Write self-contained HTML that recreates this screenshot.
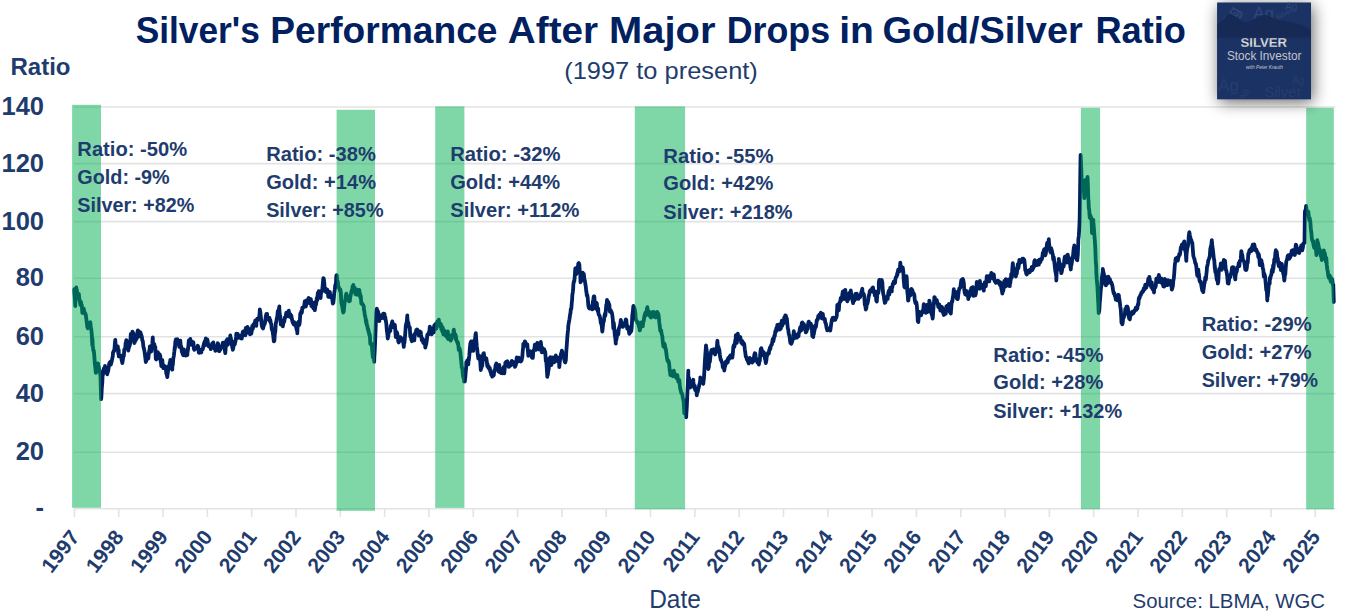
<!DOCTYPE html>
<html><head><meta charset="utf-8"><style>
html,body{margin:0;padding:0;background:#fff;width:1349px;height:613px;overflow:hidden}
svg{display:block;font-family:"Liberation Sans",sans-serif}
</style></head><body>
<svg width="1349" height="613" viewBox="0 0 1349 613">
<defs><filter id="sh" x="-50%" y="-50%" width="200%" height="200%"><feGaussianBlur in="SourceAlpha" stdDeviation="8"/><feOffset dx="2" dy="3"/><feComponentTransfer><feFuncA type="linear" slope="0.6"/></feComponentTransfer><feMerge><feMergeNode/><feMergeNode in="SourceGraphic"/></feMerge></filter></defs>
<rect width="1349" height="613" fill="#fff"/>
<line x1="74" y1="508.7" x2="1335.5" y2="508.7" stroke="#e3e3e3" stroke-width="1.6"/><line x1="74" y1="452.2" x2="1335.5" y2="452.2" stroke="#e3e3e3" stroke-width="1.6"/><line x1="74" y1="393.6" x2="1335.5" y2="393.6" stroke="#e3e3e3" stroke-width="1.6"/><line x1="74" y1="336.7" x2="1335.5" y2="336.7" stroke="#e3e3e3" stroke-width="1.6"/><line x1="74" y1="278.3" x2="1335.5" y2="278.3" stroke="#e3e3e3" stroke-width="1.6"/><line x1="74" y1="221.6" x2="1335.5" y2="221.6" stroke="#e3e3e3" stroke-width="1.6"/><line x1="74" y1="163.6" x2="1335.5" y2="163.6" stroke="#e3e3e3" stroke-width="1.6"/><line x1="74" y1="107.0" x2="1335.5" y2="107.0" stroke="#e3e3e3" stroke-width="1.6"/><line x1="74.4" y1="508.6" x2="74.4" y2="517" stroke="#e3e3e3" stroke-width="1.6"/><line x1="118.7" y1="508.6" x2="118.7" y2="517" stroke="#e3e3e3" stroke-width="1.6"/><line x1="163.0" y1="508.6" x2="163.0" y2="517" stroke="#e3e3e3" stroke-width="1.6"/><line x1="207.4" y1="508.6" x2="207.4" y2="517" stroke="#e3e3e3" stroke-width="1.6"/><line x1="251.7" y1="508.6" x2="251.7" y2="517" stroke="#e3e3e3" stroke-width="1.6"/><line x1="296.0" y1="508.6" x2="296.0" y2="517" stroke="#e3e3e3" stroke-width="1.6"/><line x1="340.3" y1="508.6" x2="340.3" y2="517" stroke="#e3e3e3" stroke-width="1.6"/><line x1="384.6" y1="508.6" x2="384.6" y2="517" stroke="#e3e3e3" stroke-width="1.6"/><line x1="428.9" y1="508.6" x2="428.9" y2="517" stroke="#e3e3e3" stroke-width="1.6"/><line x1="473.3" y1="508.6" x2="473.3" y2="517" stroke="#e3e3e3" stroke-width="1.6"/><line x1="517.6" y1="508.6" x2="517.6" y2="517" stroke="#e3e3e3" stroke-width="1.6"/><line x1="561.9" y1="508.6" x2="561.9" y2="517" stroke="#e3e3e3" stroke-width="1.6"/><line x1="606.2" y1="508.6" x2="606.2" y2="517" stroke="#e3e3e3" stroke-width="1.6"/><line x1="650.5" y1="508.6" x2="650.5" y2="517" stroke="#e3e3e3" stroke-width="1.6"/><line x1="694.8" y1="508.6" x2="694.8" y2="517" stroke="#e3e3e3" stroke-width="1.6"/><line x1="739.2" y1="508.6" x2="739.2" y2="517" stroke="#e3e3e3" stroke-width="1.6"/><line x1="783.5" y1="508.6" x2="783.5" y2="517" stroke="#e3e3e3" stroke-width="1.6"/><line x1="827.8" y1="508.6" x2="827.8" y2="517" stroke="#e3e3e3" stroke-width="1.6"/><line x1="872.1" y1="508.6" x2="872.1" y2="517" stroke="#e3e3e3" stroke-width="1.6"/><line x1="916.4" y1="508.6" x2="916.4" y2="517" stroke="#e3e3e3" stroke-width="1.6"/><line x1="960.8" y1="508.6" x2="960.8" y2="517" stroke="#e3e3e3" stroke-width="1.6"/><line x1="1005.1" y1="508.6" x2="1005.1" y2="517" stroke="#e3e3e3" stroke-width="1.6"/><line x1="1049.4" y1="508.6" x2="1049.4" y2="517" stroke="#e3e3e3" stroke-width="1.6"/><line x1="1093.7" y1="508.6" x2="1093.7" y2="517" stroke="#e3e3e3" stroke-width="1.6"/><line x1="1138.0" y1="508.6" x2="1138.0" y2="517" stroke="#e3e3e3" stroke-width="1.6"/><line x1="1182.3" y1="508.6" x2="1182.3" y2="517" stroke="#e3e3e3" stroke-width="1.6"/><line x1="1226.7" y1="508.6" x2="1226.7" y2="517" stroke="#e3e3e3" stroke-width="1.6"/><line x1="1271.0" y1="508.6" x2="1271.0" y2="517" stroke="#e3e3e3" stroke-width="1.6"/><line x1="1315.3" y1="508.6" x2="1315.3" y2="517" stroke="#e3e3e3" stroke-width="1.6"/>
<path d="M74.3,289.2 L74.3,292.0 L74.8,297.7 L75.3,306.2 L75.3,304.0 L75.8,297.1 L76.3,287.5 L76.4,289.4 L76.8,289.8 L77.3,294.1 L77.6,295.0 L77.8,298.1 L78.3,294.7 L78.8,293.8 L79.3,298.7 L79.8,300.7 L80.3,304.5 L80.8,305.4 L81.0,302.0 L81.3,304.5 L81.8,305.0 L82.3,313.0 L82.8,310.7 L83.3,309.9 L83.3,311.0 L83.8,308.7 L84.3,311.6 L84.8,313.3 L85.3,313.3 L85.6,314.6 L85.8,315.2 L86.3,318.8 L86.8,322.8 L87.3,327.0 L87.8,328.2 L87.9,327.0 L88.3,323.2 L88.8,326.4 L89.3,322.6 L89.8,323.6 L90.1,325.0 L90.3,322.1 L90.8,327.5 L91.3,329.7 L91.8,334.6 L92.3,345.4 L92.4,338.6 L92.8,345.4 L93.3,350.6 L93.8,350.7 L94.3,356.0 L94.7,361.4 L94.8,363.3 L95.3,367.3 L95.8,372.9 L95.9,372.9 L96.3,371.8 L96.8,367.1 L97.3,367.5 L97.8,363.3 L98.1,363.7 L98.3,368.1 L98.8,366.8 L99.3,370.2 L99.8,371.2 L100.3,375.0 L100.4,372.9 L100.8,387.5 L101.1,399.1 L101.3,398.0 L101.8,388.2 L102.3,382.6 L102.7,372.9 L102.8,375.3 L103.3,372.5 L103.8,368.4 L104.3,369.4 L104.8,368.2 L105.0,366.0 L105.3,371.3 L105.8,369.3 L106.3,371.5 L106.8,373.2 L107.3,374.3 L107.3,372.9 L107.8,372.2 L108.3,370.3 L108.8,366.8 L109.3,363.4 L109.8,362.4 L110.3,363.3 L110.7,361.4 L110.8,364.7 L111.3,362.8 L111.8,361.0 L112.3,358.4 L112.8,356.0 L113.0,352.3 L113.3,352.4 L113.8,350.7 L114.3,350.9 L114.8,344.6 L115.3,339.8 L115.3,340.9 L115.8,346.3 L116.3,345.8 L116.8,348.0 L117.3,349.5 L117.8,346.3 L118.3,354.0 L118.7,350.0 L118.8,356.4 L119.3,354.9 L119.8,356.6 L120.3,356.8 L120.8,355.6 L121.3,357.9 L121.8,360.9 L122.1,361.4 L122.3,363.1 L122.8,360.5 L123.3,356.3 L123.8,356.1 L124.3,349.5 L124.8,348.9 L125.3,347.8 L125.6,343.0 L125.8,343.9 L126.3,340.1 L126.8,341.0 L127.3,344.4 L127.8,346.9 L128.3,350.6 L128.8,346.7 L129.0,347.7 L129.3,346.0 L129.8,345.3 L130.3,341.8 L130.8,333.9 L131.3,336.6 L131.8,339.7 L132.3,336.6 L132.4,331.7 L132.8,332.5 L133.3,333.3 L133.8,336.0 L134.3,343.2 L134.7,338.6 L134.8,342.1 L135.3,338.9 L135.8,340.3 L136.3,336.4 L136.8,338.5 L137.3,332.9 L137.8,330.4 L138.1,330.6 L138.3,332.3 L138.8,336.0 L139.3,336.3 L139.8,336.3 L140.3,332.1 L140.8,333.6 L141.3,335.2 L141.8,336.6 L142.3,340.4 L142.7,340.9 L142.8,340.9 L143.3,346.1 L143.8,348.4 L144.3,350.1 L144.8,353.7 L145.3,357.6 L145.8,362.0 L146.1,361.4 L146.3,360.6 L146.8,358.5 L147.3,354.1 L147.8,358.2 L148.3,358.5 L148.8,353.9 L149.3,350.4 L149.6,350.0 L149.8,346.5 L150.3,347.7 L150.8,347.7 L151.3,351.6 L151.8,348.1 L152.3,343.7 L152.8,337.5 L153.0,343.0 L153.3,344.9 L153.8,346.5 L154.3,344.0 L154.8,348.2 L155.3,346.8 L155.8,358.9 L156.3,359.4 L156.4,354.6 L156.8,358.6 L157.3,356.9 L157.8,352.1 L158.3,355.3 L158.8,353.7 L159.3,358.5 L159.8,354.5 L160.3,356.2 L160.8,362.3 L161.0,361.4 L161.3,366.2 L161.8,362.0 L162.3,360.1 L162.8,365.5 L163.3,368.2 L163.8,365.6 L164.3,365.9 L164.8,366.6 L165.3,366.4 L165.8,368.0 L166.3,373.7 L166.7,372.9 L166.8,374.9 L167.3,377.1 L167.8,372.4 L168.3,369.7 L168.8,366.0 L169.3,365.8 L169.8,362.3 L170.0,365.3 L170.3,359.8 L170.8,364.7 L171.3,368.4 L171.8,368.5 L172.3,369.6 L172.4,365.3 L172.8,365.0 L173.3,358.7 L173.8,356.0 L174.3,351.9 L174.8,346.6 L174.9,348.9 L175.3,342.1 L175.8,339.5 L176.3,340.5 L176.8,339.9 L176.9,340.0 L177.3,339.2 L177.8,344.0 L178.3,343.4 L178.8,344.6 L179.3,346.9 L179.8,343.5 L179.8,344.0 L180.3,340.7 L180.8,346.6 L181.3,346.5 L181.8,351.9 L182.2,350.6 L182.3,352.5 L182.8,354.5 L183.3,355.2 L183.8,349.4 L184.3,353.9 L184.8,353.0 L185.3,352.9 L185.5,355.5 L185.8,353.0 L186.3,354.9 L186.8,355.3 L187.3,355.1 L187.8,348.3 L187.9,350.6 L188.3,346.5 L188.8,340.4 L189.3,341.9 L189.8,342.8 L190.3,338.8 L190.4,340.0 L190.8,340.6 L191.3,342.0 L191.8,344.9 L192.3,342.4 L192.8,341.9 L193.3,342.3 L193.7,345.7 L193.8,348.7 L194.3,349.8 L194.8,347.7 L195.3,347.9 L195.8,347.9 L196.3,348.4 L196.8,347.8 L196.9,348.1 L197.3,347.7 L197.8,345.8 L198.3,346.7 L198.8,352.7 L199.3,352.8 L199.8,352.1 L200.3,351.4 L200.8,352.1 L201.0,352.2 L201.3,352.5 L201.8,349.5 L202.3,349.6 L202.8,349.2 L203.3,346.2 L203.8,344.3 L204.3,342.4 L204.3,345.7 L204.8,341.2 L205.3,344.8 L205.8,338.4 L206.3,340.2 L206.8,339.7 L207.2,341.6 L207.3,339.4 L207.8,342.1 L208.3,346.1 L208.8,346.0 L209.3,346.0 L209.8,345.5 L210.0,347.3 L210.3,346.5 L210.8,349.1 L211.3,347.1 L211.8,344.6 L212.3,343.3 L212.8,343.2 L213.3,342.4 L213.8,347.9 L214.0,347.3 L214.3,348.4 L214.8,347.3 L215.3,350.8 L215.8,347.4 L216.3,349.3 L216.8,350.3 L217.3,345.3 L217.8,343.3 L218.3,344.0 L218.8,348.6 L218.9,348.1 L219.3,351.2 L219.8,346.4 L220.3,349.7 L220.8,347.6 L221.3,346.7 L221.8,346.0 L222.3,346.1 L222.8,342.7 L223.3,343.2 L223.8,342.8 L223.8,347.3 L224.3,345.9 L224.8,350.3 L225.3,353.2 L225.8,346.8 L226.3,340.6 L226.8,340.7 L227.1,342.4 L227.3,339.1 L227.8,344.9 L228.3,343.6 L228.8,339.7 L229.3,341.6 L229.8,341.0 L230.3,335.5 L230.4,338.3 L230.8,337.8 L231.3,341.1 L231.8,344.4 L232.3,347.5 L232.8,349.1 L232.8,349.8 L233.3,348.0 L233.8,344.5 L234.3,341.3 L234.8,344.3 L235.3,341.7 L235.8,339.6 L236.1,336.7 L236.3,333.7 L236.8,335.0 L237.3,337.7 L237.8,333.9 L238.3,337.8 L238.8,335.9 L239.3,336.9 L239.8,336.0 L240.1,335.9 L240.3,336.3 L240.8,338.4 L241.3,335.4 L241.8,338.5 L242.3,334.1 L242.8,331.8 L243.3,334.5 L243.8,331.2 L244.3,331.4 L244.8,334.1 L245.0,332.6 L245.3,335.3 L245.8,328.0 L246.3,329.7 L246.8,332.9 L247.3,331.8 L247.5,326.9 L247.8,329.0 L248.3,328.4 L248.8,329.7 L249.3,329.2 L249.8,331.9 L250.0,334.3 L250.3,332.4 L250.8,331.6 L251.3,333.7 L251.8,330.6 L252.3,325.8 L252.8,329.0 L253.2,326.9 L253.3,324.7 L253.8,324.0 L254.3,324.0 L254.8,322.9 L255.3,320.5 L255.8,320.7 L256.3,325.9 L256.5,321.2 L256.8,320.7 L257.3,318.8 L257.8,320.1 L258.3,318.9 L258.8,317.6 L259.3,316.4 L259.7,312.2 L259.8,309.4 L260.3,311.9 L260.8,316.6 L261.3,320.8 L261.8,325.8 L262.3,327.4 L262.8,327.9 L263.0,328.5 L263.3,327.7 L263.8,325.3 L264.3,324.3 L264.8,323.8 L265.3,320.2 L265.8,316.6 L266.3,314.0 L266.8,316.4 L267.1,313.9 L267.3,317.8 L267.8,318.8 L268.3,319.3 L268.8,320.0 L269.3,318.9 L269.5,317.9 L269.8,321.4 L270.3,320.0 L270.8,322.9 L271.3,324.2 L271.8,329.5 L272.3,330.0 L272.8,332.7 L273.3,336.3 L273.8,341.4 L274.3,339.9 L274.4,340.8 L274.8,334.0 L275.3,331.6 L275.8,322.9 L276.0,322.8 L276.3,321.7 L276.8,318.2 L277.3,316.6 L277.8,310.8 L278.3,313.0 L278.8,309.9 L279.3,306.4 L279.3,309.0 L279.8,314.8 L280.3,316.3 L280.8,324.6 L281.3,322.0 L281.8,320.5 L282.3,322.2 L282.6,322.8 L282.8,326.4 L283.3,323.1 L283.8,322.3 L284.3,321.6 L284.8,317.4 L285.3,317.7 L285.8,315.7 L286.3,312.7 L286.8,315.8 L287.3,316.1 L287.5,313.9 L287.8,315.2 L288.3,313.4 L288.8,310.6 L289.3,315.6 L289.8,316.8 L290.3,314.0 L290.8,317.1 L291.3,315.5 L291.8,318.7 L292.3,320.8 L292.3,321.2 L292.8,322.7 L293.3,323.6 L293.8,324.4 L294.3,322.2 L294.8,323.6 L295.3,324.3 L295.8,325.8 L296.3,328.0 L296.8,330.2 L297.2,329.4 L297.3,333.3 L297.8,322.6 L298.3,323.8 L298.8,321.5 L299.3,325.0 L299.8,321.9 L300.3,313.4 L300.5,314.7 L300.8,313.9 L301.3,311.2 L301.8,312.7 L302.3,307.7 L302.3,309.4 L302.8,307.8 L303.3,307.4 L303.8,306.9 L304.3,305.2 L304.8,301.2 L305.3,304.5 L305.7,304.8 L305.8,306.5 L306.3,304.1 L306.8,300.2 L307.3,300.8 L307.8,301.2 L308.3,299.0 L308.7,298.0 L308.8,298.3 L309.3,303.0 L309.8,300.0 L310.3,300.9 L310.8,299.1 L311.3,302.1 L311.4,306.0 L311.8,302.7 L312.3,302.3 L312.8,302.6 L313.3,308.4 L313.8,306.1 L314.3,305.3 L314.8,310.2 L315.3,306.9 L315.8,301.6 L316.0,304.8 L316.3,302.7 L316.8,297.9 L317.3,300.2 L317.8,292.8 L317.8,294.5 L318.3,293.1 L318.8,291.2 L319.3,294.8 L319.8,294.0 L320.3,296.3 L320.6,298.0 L320.8,295.2 L321.3,291.3 L321.8,291.2 L322.3,289.2 L322.8,284.3 L323.3,278.1 L323.3,279.7 L323.8,278.7 L324.3,283.2 L324.8,291.2 L325.3,289.1 L325.8,288.7 L326.3,290.0 L326.3,292.2 L326.8,289.3 L327.3,289.6 L327.8,291.8 L328.3,296.8 L328.8,295.8 L329.3,294.5 L329.7,295.7 L329.8,291.9 L330.3,295.8 L330.8,297.4 L331.3,295.9 L331.8,296.2 L332.3,299.3 L332.8,303.6 L333.1,302.5 L333.3,303.0 L333.8,298.2 L334.3,292.6 L334.8,289.5 L335.3,285.0 L335.8,285.8 L336.3,276.1 L336.5,275.1 L336.8,275.4 L337.3,281.2 L337.8,281.4 L338.3,286.8 L338.8,286.9 L339.3,288.7 L339.8,289.7 L340.0,291.1 L340.3,289.4 L340.8,292.1 L341.3,302.2 L341.8,304.3 L342.3,306.8 L342.8,310.3 L343.3,312.5 L343.4,310.5 L343.8,311.3 L344.3,305.5 L344.8,301.3 L345.3,300.5 L345.7,295.7 L345.8,295.9 L346.3,293.7 L346.8,295.8 L347.3,296.4 L347.8,299.9 L348.3,298.7 L348.8,297.9 L349.1,301.4 L349.3,298.6 L349.8,301.1 L350.3,297.1 L350.8,294.7 L351.3,292.1 L351.8,290.4 L352.3,289.8 L352.5,286.5 L352.8,290.9 L353.3,285.0 L353.8,289.8 L354.3,288.8 L354.8,287.9 L355.3,294.0 L355.8,290.8 L356.3,294.6 L356.8,294.1 L357.1,290.0 L357.3,289.8 L357.8,292.5 L358.3,294.9 L358.8,294.5 L359.3,290.0 L359.8,293.5 L360.3,295.9 L360.5,298.0 L360.8,295.8 L361.3,303.6 L361.8,303.0 L362.3,303.4 L362.8,304.8 L363.3,305.2 L363.8,306.4 L363.9,309.4 L364.3,310.9 L364.8,315.1 L365.3,316.7 L365.8,320.1 L366.2,323.1 L366.3,320.1 L366.8,325.3 L367.3,325.7 L367.8,329.2 L368.3,329.2 L368.5,332.2 L368.8,331.4 L369.3,335.1 L369.8,334.5 L370.3,344.0 L370.8,343.2 L371.3,344.0 L371.8,344.0 L371.9,345.9 L372.3,351.8 L372.8,356.6 L373.3,358.1 L373.8,357.0 L374.2,361.9 L374.3,357.7 L374.8,349.4 L375.3,337.0 L375.8,323.9 L376.3,312.1 L376.5,311.7 L376.8,308.6 L377.3,311.2 L377.8,311.0 L378.3,312.7 L378.8,320.1 L379.3,321.0 L379.8,315.2 L380.3,316.3 L380.8,316.5 L381.1,316.2 L381.3,316.0 L381.8,318.1 L382.3,315.6 L382.8,314.4 L383.3,313.6 L383.8,313.7 L384.3,316.7 L384.5,313.9 L384.8,318.8 L385.3,317.3 L385.8,320.9 L386.3,323.5 L386.8,330.2 L387.3,333.6 L387.8,338.5 L387.9,336.8 L388.3,336.4 L388.8,330.1 L389.3,332.0 L389.8,331.4 L390.3,330.9 L390.8,325.7 L391.3,325.9 L391.8,323.3 L392.3,321.4 L392.5,323.1 L392.8,324.2 L393.3,327.1 L393.8,326.6 L394.3,325.7 L394.8,324.8 L395.3,330.0 L395.8,337.2 L395.9,336.8 L396.3,337.2 L396.8,332.2 L397.3,333.5 L397.8,337.1 L398.3,341.6 L398.8,342.4 L399.3,341.0 L399.8,340.2 L400.3,337.1 L400.5,339.1 L400.8,337.7 L401.3,338.7 L401.8,338.4 L402.3,340.7 L402.8,340.9 L403.3,343.1 L403.8,346.9 L403.9,343.6 L404.3,343.6 L404.8,338.9 L405.3,333.1 L405.8,325.6 L406.3,323.5 L406.8,321.9 L407.3,315.3 L407.3,317.4 L407.8,322.1 L408.3,322.6 L408.8,326.1 L409.3,327.4 L409.8,327.3 L410.3,336.5 L410.8,334.3 L411.3,339.8 L411.8,340.1 L411.9,341.3 L412.3,340.7 L412.8,337.4 L413.3,336.2 L413.8,338.1 L414.3,340.4 L414.8,334.2 L415.3,332.9 L415.8,333.8 L416.3,329.8 L416.5,329.9 L416.8,331.6 L417.3,329.5 L417.8,332.1 L418.3,333.1 L418.8,335.6 L419.3,334.9 L419.8,331.4 L420.3,334.6 L420.8,332.1 L421.0,334.5 L421.3,336.1 L421.8,340.3 L422.3,340.6 L422.8,338.8 L423.3,342.9 L423.8,342.9 L424.3,340.4 L424.8,342.2 L425.3,347.7 L425.6,345.9 L425.8,345.4 L426.3,343.5 L426.8,340.4 L427.3,334.9 L427.8,334.2 L428.3,334.7 L428.8,333.4 L429.0,332.2 L429.3,331.7 L429.8,326.6 L430.3,332.0 L430.8,332.8 L431.3,333.6 L431.8,334.3 L432.3,330.3 L432.8,328.1 L433.3,329.2 L433.4,328.8 L433.8,332.3 L434.3,325.4 L434.8,325.6 L435.3,324.2 L435.8,326.2 L436.3,328.7 L436.8,325.3 L437.3,321.4 L437.8,322.4 L438.0,323.1 L438.3,322.3 L438.8,319.7 L439.3,324.5 L439.8,323.3 L440.0,324.5 L440.3,326.4 L440.8,323.9 L441.3,329.2 L441.8,326.2 L442.3,331.5 L442.8,327.7 L443.3,334.3 L443.3,332.6 L443.8,333.1 L444.3,330.3 L444.8,332.6 L445.3,335.3 L445.8,333.7 L446.3,334.6 L446.8,337.1 L447.3,337.5 L447.8,331.4 L448.2,339.2 L448.3,335.2 L448.8,337.7 L449.3,337.9 L449.8,339.2 L450.3,335.3 L450.8,340.7 L451.3,338.4 L451.8,335.9 L452.3,336.2 L452.8,335.5 L453.3,332.8 L453.8,329.6 L453.9,330.2 L454.3,334.5 L454.8,337.1 L455.3,334.4 L455.5,339.2 L455.8,335.6 L456.3,339.7 L456.8,341.0 L457.3,342.3 L457.8,344.0 L457.9,342.4 L458.3,345.0 L458.8,350.0 L459.3,348.2 L459.8,349.0 L460.3,352.2 L460.4,352.2 L460.8,357.3 L461.3,361.9 L461.8,367.8 L462.3,368.0 L462.8,374.2 L463.3,377.5 L463.8,377.7 L464.1,381.6 L464.3,379.4 L464.8,381.4 L465.3,377.3 L465.8,370.8 L466.1,368.5 L466.3,362.3 L466.8,361.8 L467.3,360.4 L467.8,360.5 L468.3,364.4 L468.5,358.7 L468.8,360.4 L469.3,355.7 L469.8,348.9 L470.3,343.7 L470.8,341.9 L471.0,342.4 L471.3,341.4 L471.8,350.8 L472.3,347.5 L472.8,346.5 L473.3,350.9 L473.4,348.9 L473.8,347.3 L474.3,340.5 L474.8,341.6 L475.3,336.4 L475.6,334.3 L475.8,333.2 L476.3,340.4 L476.8,346.5 L477.3,349.9 L477.5,352.2 L477.8,355.1 L478.3,358.6 L478.8,357.6 L479.3,355.9 L479.8,356.0 L480.3,362.7 L480.8,370.0 L480.8,368.5 L481.3,368.3 L481.8,366.7 L482.3,365.3 L482.8,358.7 L483.2,353.8 L483.3,357.4 L483.8,353.1 L484.3,357.2 L484.8,358.8 L485.3,359.1 L485.8,359.1 L486.3,358.3 L486.8,361.6 L487.3,366.2 L487.3,363.6 L487.8,365.1 L488.3,367.6 L488.8,366.6 L489.3,369.1 L489.8,368.0 L490.3,371.6 L490.8,372.4 L491.3,374.8 L491.8,374.4 L492.2,376.7 L492.3,373.2 L492.8,372.6 L493.3,374.5 L493.8,375.4 L494.3,370.4 L494.8,369.9 L495.3,368.6 L495.5,365.3 L495.8,367.6 L496.3,363.5 L496.8,366.5 L497.3,365.1 L497.8,369.8 L498.3,371.2 L498.8,371.7 L499.3,365.0 L499.5,370.1 L499.8,369.9 L500.3,372.3 L500.8,369.0 L501.3,373.2 L501.8,373.1 L502.3,372.8 L502.8,371.7 L502.8,373.4 L503.3,368.3 L503.8,367.0 L504.3,373.3 L504.8,367.9 L505.3,364.5 L505.3,362.8 L505.8,362.3 L506.3,361.7 L506.8,361.8 L507.3,361.2 L507.8,365.2 L508.3,364.4 L508.8,366.9 L509.3,363.4 L509.3,365.3 L509.8,366.2 L510.3,364.8 L510.8,365.5 L511.3,363.8 L511.8,360.9 L512.3,364.3 L512.6,362.0 L512.8,362.2 L513.3,363.0 L513.8,362.2 L514.3,365.1 L514.8,365.4 L515.0,366.9 L515.3,366.1 L515.8,365.2 L516.3,361.4 L516.8,357.3 L517.3,358.9 L517.5,358.7 L517.8,360.7 L518.3,361.4 L518.8,357.6 L519.3,360.2 L519.8,360.8 L520.3,361.0 L520.8,361.5 L521.3,360.1 L521.6,360.4 L521.8,359.2 L522.3,357.0 L522.8,350.3 L523.2,347.3 L523.3,343.8 L523.8,345.1 L524.3,346.0 L524.8,341.4 L525.3,341.9 L525.8,344.7 L526.3,343.9 L526.5,344.0 L526.8,345.3 L527.3,344.4 L527.8,350.2 L528.3,355.8 L528.8,354.7 L528.9,353.8 L529.3,352.8 L529.8,351.0 L530.3,355.2 L530.8,355.1 L531.3,353.2 L531.8,357.2 L532.3,357.8 L532.8,357.9 L533.0,355.5 L533.3,350.9 L533.8,349.9 L534.3,349.7 L534.6,347.3 L534.8,344.6 L535.3,347.7 L535.8,349.8 L536.3,349.5 L536.8,345.0 L537.3,342.9 L537.8,345.6 L537.9,344.0 L538.3,347.2 L538.8,348.7 L539.3,349.5 L539.8,347.0 L540.3,345.6 L540.8,341.9 L541.3,346.8 L541.8,352.4 L542.0,347.3 L542.3,348.9 L542.8,348.3 L543.3,351.2 L543.8,352.3 L544.3,349.4 L544.4,352.2 L544.8,351.1 L545.3,352.3 L545.8,361.1 L546.0,358.7 L546.3,361.4 L546.8,368.6 L547.3,376.9 L547.3,371.8 L547.8,374.9 L548.3,371.1 L548.8,368.1 L549.3,358.3 L549.3,358.7 L549.8,358.0 L550.3,357.2 L550.8,358.0 L551.3,365.2 L551.8,358.3 L552.3,360.9 L552.6,360.4 L552.8,357.5 L553.3,361.4 L553.8,362.4 L554.3,358.1 L554.8,361.9 L555.3,358.4 L555.8,359.4 L555.8,355.5 L556.3,358.7 L556.8,357.1 L557.3,357.4 L557.8,358.8 L558.3,361.6 L558.8,362.2 L559.1,362.0 L559.3,367.1 L559.8,361.7 L560.3,358.0 L560.8,355.0 L561.3,352.7 L561.5,354.6 L561.8,350.7 L562.3,351.7 L562.8,356.9 L563.3,357.5 L563.8,357.6 L564.3,359.3 L564.8,362.0 L565.3,362.5 L565.6,360.4 L565.8,360.7 L566.3,351.5 L566.8,344.8 L567.3,337.3 L567.8,332.1 L568.1,329.4 L568.3,325.7 L568.8,322.8 L569.3,320.1 L569.8,316.8 L570.3,313.4 L570.5,313.0 L570.8,309.0 L571.3,308.9 L571.8,302.6 L572.1,300.0 L572.3,295.6 L572.8,292.0 L573.2,288.2 L573.3,285.0 L573.8,281.6 L574.3,281.4 L574.8,275.8 L575.3,268.4 L575.8,272.0 L576.1,273.5 L576.3,274.2 L576.8,268.4 L577.3,267.1 L577.8,269.3 L578.3,263.5 L578.8,263.0 L579.1,266.1 L579.3,264.1 L579.8,272.0 L580.3,274.6 L580.5,282.3 L580.8,281.6 L581.3,280.4 L581.8,280.3 L582.3,278.2 L582.8,272.7 L583.3,274.4 L583.5,276.4 L583.8,273.9 L584.3,278.9 L584.8,280.4 L585.3,283.8 L585.8,286.9 L586.3,291.9 L586.4,291.1 L586.8,295.7 L587.3,295.0 L587.8,298.7 L588.3,305.4 L588.8,307.6 L589.3,307.4 L589.4,308.7 L589.8,307.5 L590.3,306.2 L590.8,308.1 L591.3,306.3 L591.8,305.9 L592.3,309.4 L592.8,302.1 L593.3,299.5 L593.8,296.3 L593.8,301.4 L594.3,296.5 L594.8,302.8 L595.3,304.4 L595.8,308.7 L596.3,302.6 L596.8,303.2 L597.3,309.2 L597.8,311.2 L598.2,308.7 L598.3,312.5 L598.8,314.8 L599.3,315.2 L599.8,316.7 L600.3,318.8 L600.8,322.9 L601.3,323.6 L601.8,326.4 L602.3,331.5 L602.6,329.2 L602.8,326.8 L603.3,322.4 L603.8,321.6 L604.3,317.4 L604.8,314.0 L605.3,315.8 L605.8,310.7 L606.3,304.7 L606.8,303.8 L607.0,299.9 L607.3,307.5 L607.8,302.2 L608.3,301.9 L608.8,304.4 L609.3,304.4 L609.8,311.7 L610.3,311.6 L610.8,310.3 L611.3,312.6 L611.4,311.6 L611.8,312.7 L612.3,315.1 L612.8,319.5 L613.3,328.3 L613.8,323.0 L614.3,328.8 L614.8,335.1 L615.3,338.0 L615.8,343.7 L615.8,338.1 L616.3,340.0 L616.8,337.1 L617.3,334.4 L617.8,330.9 L618.3,334.4 L618.8,328.5 L619.3,327.8 L619.8,325.8 L620.2,326.3 L620.3,323.8 L620.8,319.9 L621.3,322.4 L621.8,324.5 L622.3,325.2 L622.8,326.9 L623.3,325.1 L623.8,323.2 L624.3,324.4 L624.8,325.6 L625.3,322.3 L625.8,319.4 L626.0,323.4 L626.3,320.0 L626.8,325.8 L627.3,328.6 L627.8,326.0 L628.3,327.9 L628.8,330.9 L629.3,333.8 L629.8,331.0 L630.3,331.5 L630.4,332.2 L630.8,331.7 L631.3,331.0 L631.8,326.1 L632.3,315.3 L632.8,312.1 L633.3,306.4 L633.4,305.8 L633.8,307.1 L634.3,307.8 L634.8,309.6 L635.3,312.7 L635.8,319.3 L636.3,320.6 L636.8,321.6 L637.3,322.4 L637.8,322.1 L637.8,323.4 L638.3,322.7 L638.8,326.5 L639.3,327.3 L639.8,330.4 L640.3,327.9 L640.8,326.5 L641.3,322.4 L641.8,325.6 L642.2,326.3 L642.3,321.8 L642.8,326.2 L643.3,321.9 L643.8,320.7 L644.3,316.1 L644.8,315.2 L645.3,312.8 L645.8,315.6 L646.3,313.7 L646.6,311.6 L646.8,309.6 L647.3,307.2 L647.8,310.9 L648.3,311.8 L648.8,311.2 L649.3,315.2 L649.8,315.5 L650.3,316.6 L650.8,315.9 L651.0,317.5 L651.3,315.4 L651.8,315.1 L652.3,312.1 L652.8,315.8 L653.3,316.6 L653.8,311.8 L654.3,313.8 L654.8,316.8 L655.3,315.7 L655.8,317.5 L656.3,314.3 L656.8,313.5 L656.9,313.1 L657.3,312.0 L657.8,313.8 L658.3,313.7 L658.8,317.1 L659.3,322.4 L659.8,326.4 L660.3,330.8 L660.8,331.5 L661.3,330.5 L661.3,332.2 L661.8,334.5 L662.3,336.0 L662.8,342.2 L663.3,346.3 L663.8,346.9 L664.3,343.4 L664.8,344.7 L665.3,348.0 L665.7,349.8 L665.8,348.6 L666.3,353.1 L666.8,356.7 L667.3,359.9 L667.8,361.2 L668.3,360.5 L668.8,361.7 L669.3,365.3 L669.8,371.4 L670.1,370.3 L670.3,375.1 L670.8,374.9 L671.3,373.6 L671.8,374.0 L672.3,374.7 L672.8,376.3 L673.3,376.1 L673.8,370.7 L674.3,374.5 L674.5,373.3 L674.8,375.3 L675.3,374.4 L675.8,376.9 L676.3,378.0 L676.8,378.2 L677.3,375.1 L677.8,378.7 L678.3,381.7 L678.8,382.1 L678.9,382.1 L679.3,380.1 L679.8,385.3 L680.3,389.2 L680.8,390.7 L681.3,393.1 L681.8,393.4 L682.3,394.1 L682.8,398.3 L683.3,399.1 L683.3,399.7 L683.8,402.9 L684.3,413.3 L684.8,413.5 L685.3,414.0 L685.8,412.0 L686.2,417.3 L686.3,414.4 L686.8,406.9 L687.3,394.7 L687.8,385.0 L688.3,370.6 L688.3,376.2 L688.8,377.6 L689.3,379.2 L689.8,384.1 L690.0,384.2 L690.3,387.5 L690.8,384.7 L691.3,386.0 L691.8,384.6 L692.3,382.8 L692.8,381.7 L693.3,379.8 L693.4,381.9 L693.8,385.4 L694.3,388.0 L694.8,385.8 L695.3,390.2 L695.8,389.4 L696.3,388.4 L696.8,395.3 L696.9,394.5 L697.3,390.0 L697.8,391.7 L698.3,388.6 L698.8,387.4 L699.3,384.6 L699.8,383.4 L700.3,379.5 L700.3,377.3 L700.8,379.9 L701.3,379.4 L701.8,381.4 L702.3,379.0 L702.8,381.5 L703.3,383.8 L703.7,379.6 L703.8,379.7 L704.3,372.3 L704.8,362.7 L705.3,354.9 L705.8,348.6 L706.0,345.4 L706.3,347.7 L706.8,351.0 L707.3,357.3 L707.8,363.3 L708.3,369.0 L708.3,368.2 L708.8,367.4 L709.3,359.5 L709.8,362.1 L710.3,357.8 L710.8,353.1 L711.3,350.5 L711.7,349.9 L711.8,350.5 L712.3,352.9 L712.8,351.4 L713.3,352.4 L713.8,349.2 L714.3,352.4 L714.8,353.4 L715.1,354.5 L715.3,352.1 L715.8,351.9 L716.3,352.1 L716.8,348.6 L717.3,341.3 L717.4,340.8 L717.8,346.4 L718.3,346.3 L718.8,348.5 L719.3,349.8 L719.8,354.3 L720.3,357.9 L720.8,360.0 L720.8,359.1 L721.3,360.6 L721.8,362.0 L722.3,362.9 L722.8,367.4 L723.3,366.8 L723.8,368.3 L724.3,369.8 L724.3,370.5 L724.8,366.8 L725.3,365.8 L725.8,361.6 L726.3,363.2 L726.8,363.1 L727.3,360.2 L727.7,359.1 L727.8,362.4 L728.3,358.0 L728.8,359.0 L729.3,359.0 L729.8,356.3 L730.3,355.6 L730.8,357.7 L731.3,356.3 L731.8,355.9 L732.2,354.5 L732.3,357.7 L732.8,354.1 L733.3,347.1 L733.8,345.3 L734.3,347.0 L734.8,344.3 L735.3,339.9 L735.7,340.8 L735.8,335.2 L736.3,338.9 L736.8,342.9 L737.3,338.0 L737.8,333.7 L738.3,337.9 L738.8,337.0 L739.1,338.5 L739.3,337.4 L739.8,337.9 L740.3,337.1 L740.8,340.2 L741.3,342.8 L741.8,342.9 L742.3,341.1 L742.8,344.3 L743.3,343.3 L743.7,343.1 L743.8,345.1 L744.3,344.4 L744.8,349.2 L745.3,352.7 L745.8,356.8 L746.3,356.9 L746.8,359.3 L747.1,359.1 L747.3,358.5 L747.8,361.2 L748.3,362.2 L748.8,363.4 L749.3,360.7 L749.8,357.8 L750.3,359.4 L750.8,359.9 L751.3,359.0 L751.7,361.3 L751.8,361.6 L752.3,362.5 L752.8,361.0 L753.3,361.4 L753.8,359.3 L754.3,354.8 L754.8,353.2 L755.1,354.5 L755.3,353.4 L755.8,357.1 L756.3,359.8 L756.8,359.8 L757.3,362.5 L757.8,360.1 L758.3,361.5 L758.5,362.5 L758.8,364.6 L759.3,361.8 L759.8,361.0 L760.3,352.9 L760.8,349.0 L761.3,348.2 L761.8,351.0 L761.9,349.9 L762.3,355.1 L762.8,352.7 L763.3,351.9 L763.8,352.3 L764.3,353.7 L764.8,358.4 L765.3,359.2 L765.4,360.2 L765.8,363.1 L766.3,360.9 L766.8,356.0 L767.3,355.3 L767.8,353.3 L768.3,353.8 L768.8,353.4 L769.3,349.6 L769.8,350.0 L769.9,347.6 L770.3,348.8 L770.8,346.0 L771.3,345.0 L771.8,344.8 L772.3,341.7 L772.8,338.9 L773.3,341.5 L773.8,338.9 L774.3,335.7 L774.5,336.2 L774.8,336.1 L775.3,331.2 L775.8,331.9 L776.3,328.2 L776.8,328.1 L776.8,330.5 L777.3,324.9 L777.8,325.6 L778.3,329.2 L778.8,327.8 L779.3,324.5 L779.8,329.5 L780.3,325.8 L780.8,328.7 L781.3,324.9 L781.3,324.8 L781.8,320.6 L782.3,325.7 L782.8,322.0 L783.3,322.6 L783.8,323.3 L784.3,317.3 L784.8,317.4 L785.3,315.4 L785.8,316.7 L785.9,315.7 L786.3,318.4 L786.8,318.3 L787.3,323.1 L787.8,328.4 L788.3,329.9 L788.8,334.2 L789.3,335.3 L789.8,338.5 L790.3,342.6 L790.5,343.1 L790.8,342.8 L791.3,343.8 L791.8,342.6 L792.3,340.9 L792.8,339.1 L793.3,336.2 L793.8,331.1 L793.9,332.8 L794.3,334.7 L794.8,338.0 L795.3,336.2 L795.8,334.6 L796.3,334.7 L796.8,337.7 L797.3,337.1 L797.8,334.2 L798.3,335.1 L798.5,336.2 L798.8,333.1 L799.3,332.2 L799.8,329.3 L800.3,327.2 L800.8,330.7 L801.3,330.1 L801.8,322.8 L801.9,324.8 L802.3,322.3 L802.8,323.9 L803.3,325.1 L803.8,323.9 L804.3,328.9 L804.8,325.7 L805.3,330.1 L805.8,332.3 L806.3,331.3 L806.5,331.7 L806.8,329.5 L807.3,329.4 L807.8,328.8 L808.3,322.8 L808.8,321.6 L809.3,324.5 L809.8,323.4 L809.9,323.7 L810.3,323.8 L810.8,323.7 L811.3,325.3 L811.8,326.6 L812.3,336.1 L812.8,331.7 L813.3,337.1 L813.3,333.9 L813.8,334.3 L814.3,331.3 L814.8,328.9 L815.3,325.4 L815.8,327.3 L816.3,324.4 L816.7,320.2 L816.8,321.0 L817.3,319.6 L817.8,319.3 L818.3,315.8 L818.8,315.9 L819.3,314.8 L819.8,316.8 L820.2,315.7 L820.3,317.4 L820.8,312.6 L821.3,314.6 L821.8,318.3 L822.3,314.8 L822.8,313.9 L823.3,318.7 L823.4,317.9 L823.8,319.1 L824.3,319.6 L824.8,318.9 L825.3,322.7 L825.8,323.4 L826.3,326.3 L826.8,328.8 L826.9,328.2 L827.3,330.4 L827.8,328.9 L828.3,328.0 L828.8,329.1 L829.3,329.5 L829.8,330.4 L830.3,329.4 L830.3,330.5 L830.8,326.8 L831.3,323.3 L831.8,320.3 L832.3,319.1 L832.6,317.9 L832.8,320.3 L833.3,317.7 L833.8,319.1 L834.3,319.2 L834.8,318.7 L835.3,319.8 L835.8,317.4 L836.0,317.9 L836.3,317.7 L836.8,315.5 L837.3,304.9 L837.8,307.9 L838.3,308.4 L838.8,310.3 L839.3,303.0 L839.4,303.1 L839.8,302.1 L840.3,301.7 L840.8,297.8 L841.3,300.4 L841.8,299.0 L842.3,294.9 L842.8,291.6 L843.3,291.3 L843.8,296.7 L844.0,291.7 L844.3,299.2 L844.8,291.0 L845.3,289.9 L845.8,295.9 L846.3,297.4 L846.8,297.6 L847.3,301.3 L847.4,300.8 L847.8,300.1 L848.3,299.0 L848.8,297.5 L849.3,293.0 L849.8,295.7 L850.3,291.9 L850.8,293.0 L850.8,290.5 L851.3,295.8 L851.8,297.1 L852.3,299.5 L852.8,301.7 L853.1,303.1 L853.3,298.7 L853.8,299.3 L854.3,300.7 L854.8,296.1 L855.3,293.9 L855.8,298.2 L856.3,298.7 L856.5,296.2 L856.8,293.6 L857.3,296.4 L857.8,296.5 L858.3,298.9 L858.8,297.1 L859.3,296.7 L859.8,295.4 L860.0,297.3 L860.3,296.2 L860.8,294.7 L861.3,292.2 L861.8,291.0 L862.3,288.8 L862.4,290.8 L862.8,293.5 L863.3,293.6 L863.8,294.1 L864.3,297.2 L864.8,304.7 L865.3,305.8 L865.7,308.7 L865.8,309.5 L866.3,308.5 L866.8,304.1 L867.3,304.0 L867.8,302.2 L868.3,299.1 L868.8,295.2 L869.0,295.7 L869.3,294.4 L869.8,290.9 L870.3,291.2 L870.8,290.0 L871.3,291.2 L871.8,290.8 L872.3,287.8 L872.8,289.4 L873.0,287.5 L873.3,292.0 L873.8,292.2 L874.3,291.6 L874.8,295.4 L875.3,291.4 L875.8,295.2 L876.3,300.6 L876.3,300.6 L876.8,301.5 L877.3,293.6 L877.8,293.3 L878.3,292.9 L878.8,289.6 L878.8,282.6 L879.3,279.8 L879.8,283.6 L880.3,282.9 L880.8,284.3 L881.3,282.0 L881.8,280.0 L882.0,281.0 L882.3,282.4 L882.8,290.3 L883.3,294.3 L883.8,295.7 L884.3,300.2 L884.5,300.6 L884.8,302.9 L885.3,302.4 L885.8,300.7 L886.3,298.5 L886.8,297.2 L887.3,297.3 L887.7,298.9 L887.8,296.6 L888.3,292.9 L888.8,290.9 L889.3,294.5 L889.8,290.5 L890.3,287.7 L890.8,288.6 L891.3,291.5 L891.8,291.4 L891.8,287.5 L892.3,287.4 L892.8,283.9 L893.3,283.2 L893.8,281.6 L894.3,281.4 L894.8,283.2 L895.1,282.6 L895.3,279.6 L895.8,277.5 L896.3,276.9 L896.8,276.1 L897.3,273.1 L897.5,274.5 L897.8,271.4 L898.3,269.6 L898.8,269.2 L899.3,271.5 L899.8,270.2 L900.3,262.7 L900.8,267.7 L901.3,267.6 L901.6,267.9 L901.8,266.8 L902.3,270.7 L902.8,267.7 L903.3,271.5 L903.8,281.3 L904.0,282.6 L904.3,286.7 L904.8,287.5 L905.3,280.3 L905.8,278.5 L906.3,278.6 L906.5,276.1 L906.8,278.7 L907.3,291.5 L907.8,295.6 L908.1,300.6 L908.3,300.6 L908.8,295.8 L909.3,296.3 L909.8,294.7 L910.3,295.5 L910.8,289.6 L911.3,288.9 L911.4,289.2 L911.8,293.9 L912.3,289.8 L912.8,292.3 L913.3,294.1 L913.8,293.3 L913.8,294.0 L914.3,294.8 L914.8,300.2 L915.3,302.7 L915.8,303.4 L916.3,303.9 L916.3,302.2 L916.8,305.4 L917.3,311.8 L917.8,321.4 L917.9,318.5 L918.3,322.1 L918.8,316.1 L919.3,311.8 L919.8,313.0 L920.3,315.1 L920.8,314.0 L921.2,315.3 L921.3,313.5 L921.8,313.1 L922.3,313.0 L922.8,310.1 L923.3,310.1 L923.6,305.5 L923.8,304.1 L924.3,307.6 L924.8,309.7 L925.3,306.9 L925.8,312.9 L926.1,312.0 L926.3,308.3 L926.8,305.0 L927.3,312.1 L927.8,310.7 L928.3,306.9 L928.8,306.6 L929.3,304.9 L929.3,300.6 L929.8,302.5 L930.3,306.8 L930.8,312.3 L931.3,312.5 L931.8,314.8 L932.3,316.0 L932.6,318.5 L932.8,317.6 L933.3,309.9 L933.8,303.4 L934.2,300.6 L934.3,297.2 L934.8,297.5 L935.3,300.6 L935.8,302.6 L936.3,301.6 L936.8,300.0 L937.3,302.7 L937.8,304.1 L938.3,307.0 L938.3,303.8 L938.8,304.7 L939.3,304.4 L939.8,306.9 L940.3,310.6 L940.8,308.9 L941.3,308.6 L941.6,308.7 L941.8,306.9 L942.3,307.9 L942.8,311.7 L943.3,313.4 L943.8,315.0 L944.3,309.7 L944.8,313.6 L945.3,311.5 L945.6,313.6 L945.8,313.7 L946.3,306.3 L946.8,307.7 L947.3,305.6 L947.8,308.8 L948.3,306.6 L948.8,307.5 L948.9,303.8 L949.3,305.8 L949.8,312.2 L950.3,310.4 L950.5,310.4 L950.8,313.5 L951.3,306.8 L951.8,301.3 L952.3,301.9 L952.8,297.5 L953.3,294.8 L953.8,289.2 L953.8,292.4 L954.3,291.3 L954.8,293.8 L955.3,293.5 L955.8,296.5 L956.3,292.1 L956.8,298.3 L957.1,298.9 L957.3,297.1 L957.8,299.1 L958.3,294.5 L958.8,290.8 L959.3,288.6 L959.8,288.2 L960.3,287.6 L960.8,283.7 L961.3,280.1 L961.8,280.4 L962.0,279.4 L962.3,282.5 L962.8,279.0 L963.3,280.3 L963.8,282.8 L964.3,290.3 L964.8,293.3 L965.2,290.8 L965.3,294.4 L965.8,294.2 L966.3,290.8 L966.8,295.2 L967.3,293.7 L967.8,292.7 L968.3,299.1 L968.5,295.7 L968.8,293.2 L969.3,296.5 L969.8,294.5 L970.3,290.5 L970.8,290.8 L971.3,288.0 L971.7,289.2 L971.8,288.9 L972.3,288.3 L972.8,287.1 L973.3,295.9 L973.8,292.4 L974.3,294.9 L974.8,293.8 L975.3,295.4 L975.8,291.8 L975.8,294.0 L976.3,289.1 L976.8,281.9 L977.3,288.0 L977.8,288.2 L978.3,283.6 L978.8,285.4 L979.3,284.7 L979.8,288.8 L979.9,281.0 L980.3,285.2 L980.8,286.0 L981.3,286.1 L981.8,287.0 L982.3,285.9 L982.8,285.1 L983.3,287.8 L983.8,290.7 L984.0,287.5 L984.3,285.3 L984.8,282.1 L985.3,282.5 L985.8,286.2 L986.3,282.1 L986.8,276.2 L987.3,278.8 L987.8,278.9 L988.1,276.1 L988.3,281.4 L988.8,278.5 L989.3,281.4 L989.8,276.2 L990.3,277.8 L990.8,276.6 L991.3,272.9 L991.8,273.5 L992.3,277.4 L992.8,278.4 L993.3,275.2 L993.8,277.3 L993.8,274.5 L994.3,279.4 L994.8,281.3 L995.3,281.6 L995.8,282.8 L996.2,282.6 L996.3,281.3 L996.8,281.9 L997.3,282.5 L997.8,280.7 L998.3,281.0 L998.8,282.1 L999.3,282.6 L999.8,284.8 L1000.0,282.1 L1000.3,282.2 L1000.8,284.5 L1001.3,288.3 L1001.8,289.8 L1002.3,293.5 L1002.4,293.5 L1002.8,290.3 L1003.3,290.7 L1003.8,285.9 L1004.1,283.7 L1004.3,281.0 L1004.8,283.8 L1005.3,286.7 L1005.8,279.2 L1006.3,280.1 L1006.8,280.6 L1007.3,282.8 L1007.3,280.5 L1007.8,285.5 L1008.3,283.2 L1008.8,279.4 L1009.3,283.4 L1009.8,286.2 L1009.8,283.7 L1010.3,283.0 L1010.8,279.1 L1011.3,273.8 L1011.8,277.6 L1012.3,269.0 L1012.8,263.1 L1013.0,265.8 L1013.3,267.2 L1013.8,268.4 L1014.3,270.3 L1014.8,271.0 L1015.3,274.9 L1015.8,276.5 L1016.3,273.1 L1016.3,272.3 L1016.8,273.8 L1017.3,268.3 L1017.8,264.1 L1018.3,268.5 L1018.8,265.7 L1019.3,259.9 L1019.8,261.8 L1020.3,260.4 L1020.4,262.5 L1020.8,262.5 L1021.3,261.8 L1021.8,259.7 L1022.3,258.8 L1022.8,261.6 L1023.3,258.6 L1023.7,260.1 L1023.8,260.1 L1024.3,259.9 L1024.8,264.4 L1025.3,270.4 L1025.8,271.1 L1026.3,273.8 L1026.8,274.5 L1026.9,272.3 L1027.3,271.0 L1027.8,270.8 L1028.3,271.5 L1028.8,272.5 L1029.3,270.3 L1029.8,272.2 L1030.3,269.7 L1030.8,270.4 L1031.0,270.7 L1031.3,270.1 L1031.8,266.9 L1032.3,270.2 L1032.8,268.8 L1033.3,268.0 L1033.8,267.0 L1034.3,261.3 L1034.8,260.3 L1035.1,265.0 L1035.3,260.8 L1035.8,265.3 L1036.3,263.3 L1036.8,265.1 L1037.3,261.9 L1037.8,260.9 L1038.3,261.2 L1038.8,264.7 L1039.3,259.7 L1039.8,260.9 L1040.0,262.5 L1040.3,261.9 L1040.8,260.7 L1041.3,259.0 L1041.8,259.3 L1042.3,257.4 L1042.8,252.8 L1043.3,253.9 L1043.8,250.2 L1044.0,251.1 L1044.3,249.1 L1044.8,252.3 L1045.3,255.3 L1045.8,253.6 L1046.3,250.0 L1046.8,245.1 L1047.3,242.6 L1047.8,246.6 L1048.3,244.5 L1048.8,239.1 L1048.9,241.3 L1049.3,245.8 L1049.8,247.8 L1050.3,251.7 L1050.8,252.5 L1051.3,248.3 L1051.4,252.7 L1051.8,250.2 L1052.3,252.9 L1052.8,254.5 L1053.3,259.7 L1053.8,257.3 L1053.8,257.6 L1054.3,261.8 L1054.8,266.5 L1055.3,271.0 L1055.8,273.4 L1056.3,276.7 L1056.3,280.5 L1056.8,268.9 L1057.3,270.1 L1057.8,266.9 L1058.3,264.1 L1058.7,260.9 L1058.8,258.9 L1059.3,262.7 L1059.8,263.3 L1060.3,264.8 L1060.8,269.9 L1061.2,272.3 L1061.3,273.2 L1061.8,271.7 L1062.3,268.5 L1062.8,265.2 L1063.3,266.8 L1063.8,265.8 L1064.3,259.9 L1064.4,259.3 L1064.8,256.7 L1065.3,258.7 L1065.8,259.3 L1066.3,256.5 L1066.8,262.6 L1067.3,254.8 L1067.7,257.6 L1067.8,254.7 L1068.3,258.4 L1068.8,262.4 L1069.3,258.1 L1069.8,260.4 L1070.3,266.5 L1070.8,269.5 L1071.0,265.8 L1071.3,265.5 L1071.8,262.7 L1072.3,258.0 L1072.8,257.7 L1073.3,252.9 L1073.8,247.3 L1074.2,251.1 L1074.3,245.5 L1074.8,250.1 L1075.3,249.4 L1075.8,255.3 L1076.3,258.6 L1076.8,259.9 L1077.3,260.2 L1077.5,257.6 L1077.8,254.8 L1078.3,242.2 L1078.3,240.0 L1078.8,235.7 L1079.3,227.8 L1079.6,221.2 L1079.8,210.7 L1080.3,173.6 L1080.6,155.0 L1080.8,158.0 L1081.3,169.4 L1081.8,185.7 L1082.0,190.0 L1082.3,189.5 L1082.8,183.4 L1083.2,182.0 L1083.3,180.6 L1083.8,187.8 L1084.3,198.1 L1084.3,197.0 L1084.8,190.1 L1085.3,182.4 L1085.5,180.0 L1085.8,181.2 L1086.3,187.0 L1086.5,190.0 L1086.8,189.4 L1087.3,179.4 L1087.5,177.0 L1087.8,183.0 L1088.3,199.0 L1088.5,200.0 L1088.8,207.6 L1089.3,210.6 L1089.5,215.0 L1089.8,217.8 L1090.3,215.0 L1090.8,218.9 L1091.0,219.0 L1091.3,217.5 L1091.8,225.6 L1092.0,233.0 L1092.3,230.8 L1092.8,225.0 L1093.3,219.8 L1093.3,222.0 L1093.8,227.4 L1094.3,234.0 L1094.6,238.0 L1094.8,240.3 L1095.3,248.1 L1095.8,262.2 L1096.2,265.8 L1096.3,272.5 L1096.8,279.9 L1097.3,285.0 L1097.8,294.2 L1098.3,304.1 L1098.7,313.1 L1098.8,312.6 L1099.3,310.6 L1099.8,301.7 L1100.3,296.4 L1100.8,289.7 L1101.3,285.2 L1101.8,278.2 L1102.3,274.6 L1102.8,271.8 L1102.8,269.0 L1103.3,271.8 L1103.8,273.5 L1104.3,276.7 L1104.8,276.2 L1105.3,284.8 L1105.8,282.5 L1106.0,285.4 L1106.3,282.8 L1106.8,280.1 L1107.3,283.6 L1107.8,279.4 L1108.3,276.6 L1108.5,277.2 L1108.8,281.8 L1109.3,280.4 L1109.8,279.0 L1110.3,281.0 L1110.8,283.0 L1111.3,282.3 L1111.8,284.0 L1112.3,285.4 L1112.6,287.0 L1112.8,288.9 L1113.3,291.5 L1113.8,293.6 L1114.3,293.1 L1114.8,296.0 L1115.3,295.7 L1115.8,299.7 L1115.8,296.8 L1116.3,299.1 L1116.8,297.2 L1117.3,300.3 L1117.8,295.4 L1118.3,294.8 L1118.8,295.2 L1119.1,298.4 L1119.3,298.9 L1119.8,302.1 L1120.3,306.5 L1120.8,309.7 L1121.3,318.7 L1121.5,322.9 L1121.8,319.3 L1122.3,324.3 L1122.8,322.0 L1123.3,315.7 L1123.8,317.8 L1124.3,314.9 L1124.8,315.0 L1125.3,308.9 L1125.8,310.8 L1126.3,310.4 L1126.4,306.6 L1126.8,307.8 L1127.3,306.6 L1127.8,307.8 L1128.3,310.4 L1128.8,316.9 L1129.3,318.8 L1129.8,319.4 L1130.3,316.2 L1130.5,314.7 L1130.8,314.4 L1131.3,314.8 L1131.8,313.1 L1132.3,311.7 L1132.8,311.5 L1133.3,313.5 L1133.8,311.9 L1134.3,311.7 L1134.8,310.1 L1135.3,309.4 L1135.4,309.8 L1135.8,307.7 L1136.3,309.9 L1136.8,307.5 L1137.3,308.6 L1137.8,304.4 L1138.3,304.7 L1138.8,298.4 L1139.3,297.2 L1139.5,298.4 L1139.8,297.1 L1140.3,295.2 L1140.8,295.2 L1141.3,292.8 L1141.8,293.1 L1142.3,291.5 L1142.8,291.9 L1143.3,290.8 L1143.8,288.3 L1144.3,288.1 L1144.7,289.4 L1144.8,288.4 L1145.3,284.6 L1145.8,285.4 L1146.3,287.6 L1146.8,284.2 L1147.3,283.9 L1147.8,283.1 L1148.3,278.7 L1148.8,281.0 L1149.3,283.9 L1149.3,277.0 L1149.8,279.1 L1150.3,285.4 L1150.8,282.4 L1151.3,287.2 L1151.8,282.5 L1152.3,288.4 L1152.8,289.5 L1153.3,287.6 L1153.8,288.9 L1154.0,292.5 L1154.3,287.9 L1154.8,286.3 L1155.3,287.6 L1155.8,285.8 L1156.3,278.7 L1156.8,280.0 L1157.3,281.2 L1157.8,279.9 L1158.3,282.0 L1158.6,277.0 L1158.8,274.8 L1159.3,277.9 L1159.8,279.3 L1160.3,282.0 L1160.8,278.9 L1161.3,278.4 L1161.8,281.4 L1162.3,283.7 L1162.8,280.9 L1163.3,285.4 L1163.3,286.3 L1163.8,285.3 L1164.3,286.5 L1164.8,278.9 L1165.3,282.6 L1165.8,280.5 L1166.3,280.2 L1166.8,282.6 L1167.3,285.2 L1167.8,282.3 L1167.9,280.1 L1168.3,281.2 L1168.8,284.6 L1169.3,281.2 L1169.8,282.0 L1170.3,281.9 L1170.8,281.1 L1171.3,283.9 L1171.8,289.7 L1172.3,288.3 L1172.6,286.3 L1172.8,286.6 L1173.3,280.8 L1173.8,278.4 L1174.3,272.6 L1174.8,265.1 L1175.3,261.7 L1175.7,258.4 L1175.8,261.5 L1176.3,258.7 L1176.8,260.2 L1177.3,257.4 L1177.8,260.7 L1178.3,257.6 L1178.8,256.8 L1179.3,253.9 L1179.8,255.0 L1180.3,252.5 L1180.3,252.2 L1180.8,247.4 L1181.3,248.6 L1181.8,244.7 L1182.3,248.4 L1182.8,247.4 L1183.3,244.4 L1183.4,242.9 L1183.8,246.6 L1184.3,241.3 L1184.8,250.0 L1185.3,249.6 L1185.8,253.7 L1186.3,260.9 L1186.5,255.3 L1186.8,252.1 L1187.3,248.3 L1187.8,246.4 L1188.3,243.8 L1188.8,235.7 L1189.3,232.2 L1189.6,233.6 L1189.8,236.7 L1190.3,236.8 L1190.8,241.1 L1191.3,240.0 L1191.8,242.3 L1192.3,242.7 L1192.8,249.3 L1193.3,255.6 L1193.8,257.3 L1194.2,258.4 L1194.3,258.5 L1194.8,260.9 L1195.3,263.3 L1195.8,263.5 L1196.3,266.6 L1196.8,272.0 L1197.3,275.8 L1197.8,271.8 L1198.3,269.6 L1198.8,277.1 L1198.9,273.9 L1199.3,279.1 L1199.8,281.5 L1200.3,282.2 L1200.8,281.7 L1201.3,285.3 L1201.8,288.2 L1202.3,290.6 L1202.8,287.5 L1203.3,292.2 L1203.4,290.5 L1203.8,287.9 L1204.3,283.8 L1204.8,281.9 L1205.3,277.5 L1205.8,279.9 L1206.3,274.9 L1206.8,270.2 L1206.9,267.6 L1207.3,266.0 L1207.8,263.8 L1208.3,260.4 L1208.8,259.3 L1209.3,258.1 L1209.8,256.0 L1210.3,248.8 L1210.8,246.6 L1211.3,245.2 L1211.8,240.1 L1211.9,242.5 L1212.3,245.4 L1212.8,249.2 L1213.3,253.5 L1213.8,258.4 L1214.3,260.4 L1214.8,268.6 L1214.8,265.4 L1215.3,272.1 L1215.8,271.7 L1216.3,275.7 L1216.8,279.8 L1217.3,279.7 L1217.8,282.5 L1217.8,283.6 L1218.3,281.5 L1218.8,271.6 L1219.3,268.6 L1219.8,269.3 L1220.3,268.3 L1220.6,265.4 L1220.8,263.5 L1221.3,266.0 L1221.8,269.8 L1222.3,266.4 L1222.8,264.2 L1223.3,263.2 L1223.8,260.0 L1224.3,262.1 L1224.8,261.7 L1225.1,260.8 L1225.3,264.1 L1225.8,269.6 L1226.3,270.6 L1226.8,273.3 L1227.3,276.8 L1227.8,283.4 L1228.3,280.7 L1228.5,283.6 L1228.8,281.6 L1229.3,278.3 L1229.8,277.3 L1230.3,277.2 L1230.8,274.0 L1231.3,272.9 L1231.8,269.8 L1232.0,267.6 L1232.3,267.3 L1232.8,267.8 L1233.3,267.2 L1233.8,271.4 L1234.3,272.5 L1234.8,276.6 L1235.3,279.4 L1235.4,276.8 L1235.8,274.3 L1236.3,270.3 L1236.8,271.5 L1237.3,267.3 L1237.8,266.9 L1238.3,266.5 L1238.8,262.8 L1238.8,263.1 L1239.3,266.1 L1239.8,260.9 L1240.3,261.0 L1240.8,258.5 L1241.3,251.2 L1241.8,253.9 L1242.2,256.2 L1242.3,255.0 L1242.8,259.3 L1243.3,260.5 L1243.8,260.8 L1244.3,262.6 L1244.8,265.0 L1245.3,269.6 L1245.7,269.9 L1245.8,269.3 L1246.3,270.0 L1246.8,268.0 L1247.3,262.2 L1247.8,262.6 L1248.3,253.7 L1248.8,254.1 L1249.3,250.6 L1249.8,249.9 L1250.2,249.4 L1250.3,251.5 L1250.8,249.7 L1251.3,248.3 L1251.8,250.8 L1252.3,246.8 L1252.8,244.7 L1253.3,247.7 L1253.7,245.9 L1253.8,248.1 L1254.3,244.5 L1254.8,247.2 L1255.3,250.2 L1255.8,249.8 L1256.3,249.5 L1256.8,251.2 L1257.1,251.7 L1257.3,252.9 L1257.8,252.7 L1258.3,257.1 L1258.8,254.3 L1259.3,257.7 L1259.8,265.2 L1260.3,261.8 L1260.5,263.1 L1260.8,263.7 L1261.3,260.1 L1261.8,262.9 L1262.3,264.2 L1262.8,268.4 L1263.3,269.7 L1263.8,276.5 L1264.3,273.7 L1264.8,275.6 L1265.1,276.8 L1265.3,279.0 L1265.8,284.7 L1266.3,290.3 L1266.8,289.5 L1267.3,300.5 L1267.4,297.3 L1267.8,295.9 L1268.3,290.7 L1268.8,284.7 L1269.3,283.3 L1269.7,283.6 L1269.8,277.9 L1270.3,278.8 L1270.8,275.7 L1271.3,275.0 L1271.8,270.6 L1272.3,269.2 L1272.8,272.0 L1273.1,265.4 L1273.3,269.3 L1273.8,264.9 L1274.3,259.2 L1274.8,261.4 L1275.3,253.8 L1275.8,250.2 L1276.3,253.8 L1276.5,251.7 L1276.8,251.9 L1277.3,257.2 L1277.8,258.5 L1278.3,263.8 L1278.8,266.0 L1279.3,265.1 L1279.8,262.9 L1279.9,263.1 L1280.3,265.9 L1280.8,270.1 L1281.3,269.8 L1281.8,263.8 L1282.3,268.2 L1282.8,271.1 L1283.3,274.0 L1283.8,275.5 L1284.3,280.6 L1284.5,279.1 L1284.8,275.2 L1285.3,274.5 L1285.8,266.7 L1286.3,261.4 L1286.8,260.1 L1287.3,258.4 L1287.8,255.6 L1287.9,258.5 L1288.3,255.1 L1288.8,257.9 L1289.3,258.7 L1289.8,257.6 L1290.3,257.1 L1290.8,254.6 L1291.3,252.7 L1291.8,250.6 L1292.0,254.8 L1292.3,251.7 L1292.8,250.1 L1293.3,251.0 L1293.8,253.3 L1294.3,253.5 L1294.8,255.0 L1295.3,250.0 L1295.8,244.7 L1295.9,249.9 L1296.3,245.1 L1296.8,252.4 L1297.3,252.3 L1297.8,249.5 L1298.3,252.4 L1298.8,249.4 L1299.3,253.0 L1299.8,249.6 L1299.8,248.9 L1300.3,247.7 L1300.8,249.2 L1301.3,245.3 L1301.8,245.7 L1302.3,250.4 L1302.7,246.0 L1302.8,248.4 L1303.3,243.5 L1303.8,243.0 L1304.3,242.8 L1304.5,243.0 L1304.8,217.8 L1304.9,212.0 L1305.3,210.2 L1305.8,210.4 L1306.1,206.0 L1306.3,207.9 L1306.8,210.8 L1307.3,211.5 L1307.8,212.4 L1308.0,212.0 L1308.3,211.7 L1308.8,216.5 L1309.3,220.3 L1309.7,217.9 L1309.8,219.3 L1310.3,221.4 L1310.8,228.2 L1311.3,232.6 L1311.5,234.0 L1311.8,238.4 L1312.3,240.7 L1312.8,241.8 L1313.3,241.0 L1313.3,244.0 L1313.8,246.0 L1314.3,247.9 L1314.8,246.5 L1315.3,246.6 L1315.8,246.8 L1316.3,253.7 L1316.4,255.0 L1316.8,250.7 L1317.3,240.2 L1317.5,247.0 L1317.8,242.1 L1318.3,244.5 L1318.8,247.2 L1319.3,249.0 L1319.6,250.0 L1319.8,249.5 L1320.3,253.2 L1320.8,256.2 L1321.3,255.3 L1321.8,260.0 L1322.3,258.7 L1322.5,258.0 L1322.8,255.5 L1323.3,255.1 L1323.8,250.3 L1324.0,253.0 L1324.3,252.3 L1324.8,253.3 L1325.3,256.5 L1325.8,260.6 L1326.0,262.0 L1326.3,257.8 L1326.8,265.0 L1327.3,269.3 L1327.8,271.6 L1328.3,276.3 L1328.5,276.0 L1328.8,277.8 L1329.3,277.0 L1329.8,275.6 L1330.3,279.6 L1330.8,281.7 L1331.0,280.0 L1331.3,278.2 L1331.8,279.4 L1332.3,279.6 L1332.8,285.1 L1333.3,284.8 L1333.3,286.0 L1333.8,302.0" fill="none" stroke="#002060" stroke-width="3.8" stroke-linejoin="round" stroke-linecap="round"/>
<rect x="72.1" y="104.8" width="28.9" height="403.0" fill="rgba(0,176,80,0.5)"/><rect x="336.6" y="109.8" width="38.4" height="401.0" fill="rgba(0,176,80,0.5)"/><rect x="435.2" y="106.4" width="29.2" height="401.5" fill="rgba(0,176,80,0.5)"/><rect x="634.8" y="106.4" width="50.3" height="402.9" fill="rgba(0,176,80,0.5)"/><rect x="1080.9" y="107.8" width="19.2" height="401.5" fill="rgba(0,176,80,0.5)"/><rect x="1306.2" y="107.8" width="27.6" height="401.5" fill="rgba(0,176,80,0.5)"/>
<text x="44" y="460.2" text-anchor="end" font-weight="bold" font-size="25.5" fill="#1f3c6e">20</text><text x="44" y="401.6" text-anchor="end" font-weight="bold" font-size="25.5" fill="#1f3c6e">40</text><text x="44" y="344.7" text-anchor="end" font-weight="bold" font-size="25.5" fill="#1f3c6e">60</text><text x="44" y="286.3" text-anchor="end" font-weight="bold" font-size="25.5" fill="#1f3c6e">80</text><text x="44" y="229.6" text-anchor="end" font-weight="bold" font-size="25.5" fill="#1f3c6e">100</text><text x="44" y="171.6" text-anchor="end" font-weight="bold" font-size="25.5" fill="#1f3c6e">120</text><text x="44" y="115.0" text-anchor="end" font-weight="bold" font-size="25.5" fill="#1f3c6e">140</text><text x="44" y="515.6" text-anchor="end" font-weight="bold" font-size="25.5" fill="#1f3c6e">-</text>
{<text x="77.33" y="156.10" font-weight="bold" font-size="20.8" fill="#1f3c6e" textLength="109.81" lengthAdjust="spacingAndGlyphs">Ratio: -50%</text>}{<text x="77.35" y="183.50" font-weight="bold" font-size="20.8" fill="#1f3c6e" textLength="92.31" lengthAdjust="spacingAndGlyphs">Gold: -9%</text>}{<text x="77.35" y="212.40" font-weight="bold" font-size="20.8" fill="#1f3c6e" textLength="116.88" lengthAdjust="spacingAndGlyphs">Silver: +82%</text>}{<text x="266.13" y="160.60" font-weight="bold" font-size="20.8" fill="#1f3c6e" textLength="109.71" lengthAdjust="spacingAndGlyphs">Ratio: -38%</text>}{<text x="266.13" y="188.50" font-weight="bold" font-size="20.8" fill="#1f3c6e" textLength="109.88" lengthAdjust="spacingAndGlyphs">Gold: +14%</text>}{<text x="266.15" y="216.90" font-weight="bold" font-size="20.8" fill="#1f3c6e" textLength="117.39" lengthAdjust="spacingAndGlyphs">Silver: +85%</text>}{<text x="450.23" y="160.60" font-weight="bold" font-size="20.8" fill="#1f3c6e" textLength="110.22" lengthAdjust="spacingAndGlyphs">Ratio: -32%</text>}{<text x="450.23" y="188.50" font-weight="bold" font-size="20.8" fill="#1f3c6e" textLength="109.98" lengthAdjust="spacingAndGlyphs">Gold: +44%</text>}{<text x="450.23" y="216.90" font-weight="bold" font-size="20.8" fill="#1f3c6e" textLength="129.10" lengthAdjust="spacingAndGlyphs">Silver: +112%</text>}{<text x="663.33" y="162.60" font-weight="bold" font-size="20.8" fill="#1f3c6e" textLength="110.22" lengthAdjust="spacingAndGlyphs">Ratio: -55%</text>}{<text x="663.33" y="190.00" font-weight="bold" font-size="20.8" fill="#1f3c6e" textLength="109.98" lengthAdjust="spacingAndGlyphs">Gold: +42%</text>}{<text x="663.34" y="218.70" font-weight="bold" font-size="20.8" fill="#1f3c6e" textLength="129.23" lengthAdjust="spacingAndGlyphs">Silver: +218%</text>}{<text x="993.33" y="361.70" font-weight="bold" font-size="20.8" fill="#1f3c6e" textLength="110.22" lengthAdjust="spacingAndGlyphs">Ratio: -45%</text>}{<text x="993.33" y="389.30" font-weight="bold" font-size="20.8" fill="#1f3c6e" textLength="109.98" lengthAdjust="spacingAndGlyphs">Gold: +28%</text>}{<text x="993.34" y="418.40" font-weight="bold" font-size="20.8" fill="#1f3c6e" textLength="128.73" lengthAdjust="spacingAndGlyphs">Silver: +132%</text>}{<text x="1201.63" y="330.60" font-weight="bold" font-size="20.8" fill="#1f3c6e" textLength="110.12" lengthAdjust="spacingAndGlyphs">Ratio: -29%</text>}{<text x="1201.63" y="358.50" font-weight="bold" font-size="20.8" fill="#1f3c6e" textLength="109.88" lengthAdjust="spacingAndGlyphs">Gold: +27%</text>}{<text x="1201.65" y="386.90" font-weight="bold" font-size="20.8" fill="#1f3c6e" textLength="116.48" lengthAdjust="spacingAndGlyphs">Silver: +79%</text>}
{<text x="135.77" y="42.70" font-weight="bold" font-size="37.8" fill="#002060" textLength="124.05" lengthAdjust="spacingAndGlyphs">Silver's</text>}{<text x="270.35" y="42.70" font-weight="bold" font-size="37.8" fill="#002060" textLength="227.12" lengthAdjust="spacingAndGlyphs">Performance</text>}{<text x="507.88" y="42.70" font-weight="bold" font-size="37.8" fill="#002060" textLength="90.13" lengthAdjust="spacingAndGlyphs">After</text>}{<text x="609.14" y="42.70" font-weight="bold" font-size="37.8" fill="#002060" textLength="106.32" lengthAdjust="spacingAndGlyphs">Major</text>}{<text x="726.66" y="42.70" font-weight="bold" font-size="37.8" fill="#002060" textLength="103.48" lengthAdjust="spacingAndGlyphs">Drops</text>}{<text x="839.20" y="42.70" font-weight="bold" font-size="37.8" fill="#002060" textLength="34.67" lengthAdjust="spacingAndGlyphs">in</text>}{<text x="882.59" y="42.70" font-weight="bold" font-size="37.8" fill="#002060" textLength="200.15" lengthAdjust="spacingAndGlyphs">Gold/Silver</text>}{<text x="1095.43" y="42.70" font-weight="bold" font-size="37.8" fill="#002060" textLength="90.51" lengthAdjust="spacingAndGlyphs">Ratio</text>}{<text x="564.22" y="79.40" font-weight="normal" font-size="24.5" fill="#1f3c6e" textLength="193.63" lengthAdjust="spacingAndGlyphs">(1997 to present)</text>}{<text x="10.45" y="75.10" font-weight="bold" font-size="24.7" fill="#1f3c6e" textLength="60.05" lengthAdjust="spacingAndGlyphs">Ratio</text>}
<text transform="translate(68.4,528) rotate(-52)" text-anchor="end" font-weight="bold" font-size="21" fill="#1f3c6e" dominant-baseline="hanging">1997</text><text transform="translate(112.7,528) rotate(-52)" text-anchor="end" font-weight="bold" font-size="21" fill="#1f3c6e" dominant-baseline="hanging">1998</text><text transform="translate(157.0,528) rotate(-52)" text-anchor="end" font-weight="bold" font-size="21" fill="#1f3c6e" dominant-baseline="hanging">1999</text><text transform="translate(201.4,528) rotate(-52)" text-anchor="end" font-weight="bold" font-size="21" fill="#1f3c6e" dominant-baseline="hanging">2000</text><text transform="translate(245.7,528) rotate(-52)" text-anchor="end" font-weight="bold" font-size="21" fill="#1f3c6e" dominant-baseline="hanging">2001</text><text transform="translate(290.0,528) rotate(-52)" text-anchor="end" font-weight="bold" font-size="21" fill="#1f3c6e" dominant-baseline="hanging">2002</text><text transform="translate(334.3,528) rotate(-52)" text-anchor="end" font-weight="bold" font-size="21" fill="#1f3c6e" dominant-baseline="hanging">2003</text><text transform="translate(378.6,528) rotate(-52)" text-anchor="end" font-weight="bold" font-size="21" fill="#1f3c6e" dominant-baseline="hanging">2004</text><text transform="translate(422.9,528) rotate(-52)" text-anchor="end" font-weight="bold" font-size="21" fill="#1f3c6e" dominant-baseline="hanging">2005</text><text transform="translate(467.3,528) rotate(-52)" text-anchor="end" font-weight="bold" font-size="21" fill="#1f3c6e" dominant-baseline="hanging">2006</text><text transform="translate(511.6,528) rotate(-52)" text-anchor="end" font-weight="bold" font-size="21" fill="#1f3c6e" dominant-baseline="hanging">2007</text><text transform="translate(555.9,528) rotate(-52)" text-anchor="end" font-weight="bold" font-size="21" fill="#1f3c6e" dominant-baseline="hanging">2008</text><text transform="translate(600.2,528) rotate(-52)" text-anchor="end" font-weight="bold" font-size="21" fill="#1f3c6e" dominant-baseline="hanging">2009</text><text transform="translate(644.5,528) rotate(-52)" text-anchor="end" font-weight="bold" font-size="21" fill="#1f3c6e" dominant-baseline="hanging">2010</text><text transform="translate(688.8,528) rotate(-52)" text-anchor="end" font-weight="bold" font-size="21" fill="#1f3c6e" dominant-baseline="hanging">2011</text><text transform="translate(733.2,528) rotate(-52)" text-anchor="end" font-weight="bold" font-size="21" fill="#1f3c6e" dominant-baseline="hanging">2012</text><text transform="translate(777.5,528) rotate(-52)" text-anchor="end" font-weight="bold" font-size="21" fill="#1f3c6e" dominant-baseline="hanging">2013</text><text transform="translate(821.8,528) rotate(-52)" text-anchor="end" font-weight="bold" font-size="21" fill="#1f3c6e" dominant-baseline="hanging">2014</text><text transform="translate(866.1,528) rotate(-52)" text-anchor="end" font-weight="bold" font-size="21" fill="#1f3c6e" dominant-baseline="hanging">2015</text><text transform="translate(910.4,528) rotate(-52)" text-anchor="end" font-weight="bold" font-size="21" fill="#1f3c6e" dominant-baseline="hanging">2016</text><text transform="translate(954.8,528) rotate(-52)" text-anchor="end" font-weight="bold" font-size="21" fill="#1f3c6e" dominant-baseline="hanging">2017</text><text transform="translate(999.1,528) rotate(-52)" text-anchor="end" font-weight="bold" font-size="21" fill="#1f3c6e" dominant-baseline="hanging">2018</text><text transform="translate(1043.4,528) rotate(-52)" text-anchor="end" font-weight="bold" font-size="21" fill="#1f3c6e" dominant-baseline="hanging">2019</text><text transform="translate(1087.7,528) rotate(-52)" text-anchor="end" font-weight="bold" font-size="21" fill="#1f3c6e" dominant-baseline="hanging">2020</text><text transform="translate(1132.0,528) rotate(-52)" text-anchor="end" font-weight="bold" font-size="21" fill="#1f3c6e" dominant-baseline="hanging">2021</text><text transform="translate(1176.3,528) rotate(-52)" text-anchor="end" font-weight="bold" font-size="21" fill="#1f3c6e" dominant-baseline="hanging">2022</text><text transform="translate(1220.7,528) rotate(-52)" text-anchor="end" font-weight="bold" font-size="21" fill="#1f3c6e" dominant-baseline="hanging">2023</text><text transform="translate(1265.0,528) rotate(-52)" text-anchor="end" font-weight="bold" font-size="21" fill="#1f3c6e" dominant-baseline="hanging">2024</text><text transform="translate(1309.3,528) rotate(-52)" text-anchor="end" font-weight="bold" font-size="21" fill="#1f3c6e" dominant-baseline="hanging">2025</text>
{<text x="649.20" y="608.40" font-weight="normal" font-size="25.8" fill="#1f3c6e" textLength="51.67" lengthAdjust="spacingAndGlyphs">Date</text>}{<text x="1132.62" y="607.60" font-weight="normal" font-size="20.8" fill="#1f3c6e" textLength="192.44" lengthAdjust="spacingAndGlyphs">Source: LBMA, WGC</text>}

<g>
<rect x="1217.2" y="2.6" width="93.8" height="96.7" fill="#1b3264" filter="url(#sh)"/>
<svg x="1217.2" y="2.6" width="93.8" height="96.7" viewBox="0 0 93.8 96.7" overflow="hidden">
<rect width="93.8" height="96.7" fill="#1b3264"/>
<g fill="#2f4777">
<text x="14" y="26" font-size="17" transform="rotate(-62 14 26)">Ag</text>
<text x="11" y="13" font-size="7">Ag</text>
<text x="36" y="16" font-size="17">Ag</text>
<text x="68" y="7" font-size="10">Ag</text>
<text x="24" y="24" font-size="6" transform="rotate(-85 24 24)">Silver</text>
<text x="60" y="17" font-size="7" transform="rotate(-25 60 17)">Silver</text>
</g>
<path d="M0,22 L5,18 L10,13 L13,11 L17,13 L22,17 L28,20 L33,19 L40,15 L47,12 L53,14 L60,17 L70,19 L80,21 L88,24 L93.8,27 L93.8,36 L0,36 Z" fill="#172a55"/>
<rect y="34" width="93.8" height="4" fill="#1a3162" opacity="0.6"/>
<g fill="#263e70">
<text x="1" y="88" font-size="17">Ag</text>
<text x="47" y="94" font-size="15">Silver</text>
<text x="75" y="81" font-size="10">Ag</text>
<text x="28" y="98" font-size="9" transform="rotate(-70 28 98)">Ag</text>
</g>
<defs><linearGradient id="slv" x1="0" y1="0" x2="0" y2="1"><stop offset="0" stop-color="#9a9a9a"/><stop offset="0.5" stop-color="#e0e0e0"/><stop offset="1" stop-color="#8c8c8c"/></linearGradient></defs>
<text x="23.3" y="44.9" font-weight="bold" font-size="13.6" fill="url(#slv)" textLength="46.5" lengthAdjust="spacingAndGlyphs">SILVER</text>
<text x="9.7" y="57.1" font-size="12.6" fill="#c4c6cc" textLength="74.5" lengthAdjust="spacingAndGlyphs">Stock Investor</text>
<text x="28.8" y="66.4" font-size="5.8" font-style="italic" fill="#c8c8c8" textLength="37" lengthAdjust="spacingAndGlyphs">with Peter Krauth</text>
</svg>
</g>
</svg>
</body></html>
